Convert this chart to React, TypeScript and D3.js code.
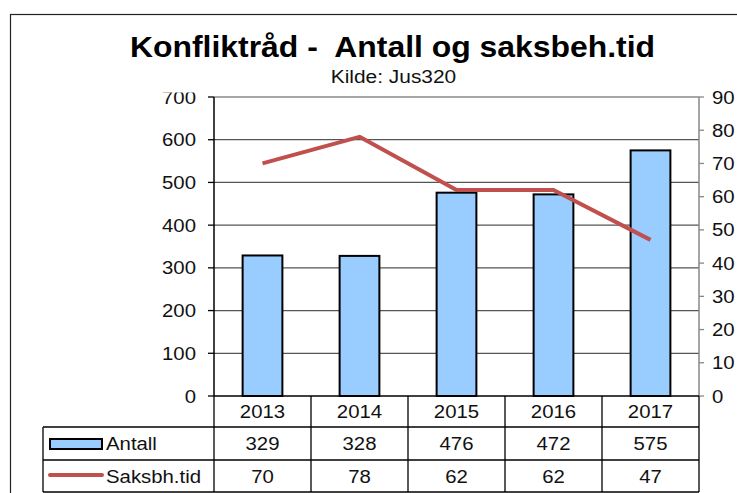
import React from "react";
import * as d3 from "d3";

const years = ["2013", "2014", "2015", "2016", "2017"];
const antall = [329, 328, 476, 472, 575];
const saksbehTid = [70, 78, 62, 62, 47];
const leftTicks = [0, 100, 200, 300, 400, 500, 600, 700];
const rightTicks = [0, 10, 20, 30, 40, 50, 60, 70, 80, 90];
const seriesNames = ["Antall", "Saksbh.tid"];
const titleText = "Konfliktråd -  Antall og saksbeh.tid";
const subtitleText = "Kilde: Jus320";

const FONT = "'Liberation Sans', Arial, sans-serif";
const SX = 1.1;

function T({ x, y, size, anchor = "start", bold = false, children, fill = "#000" }: any) {
  return (
    <g transform={`translate(${x},${y}) scale(${SX},1)`}>
      <text
        x={0}
        y={0}
        fontSize={size}
        fontFamily={FONT}
        fontWeight={bold ? "bold" : "normal"}
        textAnchor={anchor}
        fill={fill}
        style={{ whiteSpace: "pre" }}
      >
        {children}
      </text>
    </g>
  );
}

export default function App() {
  const W = 737;
  const H = 493;
  const plotL = 214;
  const plotR = 699;
  const plotT = 97;
  const plotB = 396;

  const x = d3.scaleBand<string>().domain(years).range([plotL, plotR]).padding(0);
  const bw = x.bandwidth();
  const barW = bw * 0.41;
  const yL = d3.scaleLinear().domain([0, 700]).range([plotB, plotT]);
  const yR = d3.scaleLinear().domain([0, 90]).range([plotB, plotT]);

  const line = d3
    .line<number>()
    .x((_, i) => (x(years[i]) as number) + bw / 2)
    .y((d) => yR(d));

  const rowYs = [plotB, 427, 460, 492];
  const tableL = 43;
  const fs = 18.5;
  const dy = 6.5;

  return (
    <svg
      width={W}
      height={H}
      style={{ position: "absolute", left: 0, top: 0, background: "#fff" }}
    >
      <defs>
        <clipPath id="lclip">
          <rect x={0} y={92.5} width={213} height={400} />
        </clipPath>
      </defs>
      <rect x={0} y={0} width={W} height={H} fill="#fff" />
      {/* outer frame */}
      <rect x={10.5} y={14.5} width={W + 20} height={H + 20} fill="none" stroke="#222" strokeWidth={1.2} />

      {/* title */}
      <T x={392.5} y={57} size={29} anchor="middle" bold>
        {titleText}
      </T>
      <T x={393.5} y={83} size={19} anchor="middle" fill="#111">
        {subtitleText}
      </T>

      {/* gridlines */}
      {leftTicks.slice(1, -1).map((t) => (
        <line key={"g" + t} x1={plotL} x2={plotR} y1={yL(t)} y2={yL(t)} stroke="#555" strokeWidth={1.3} />
      ))}
      {/* plot top border */}
      <line x1={plotL} x2={plotR} y1={plotT} y2={plotT} stroke="#888" strokeWidth={1.5} />

      {/* bars */}
      {antall.map((v, i) => {
        const cx = (x(years[i]) as number) + bw / 2;
        return (
          <rect
            key={"b" + i}
            x={cx - barW / 2}
            y={yL(v)}
            width={barW}
            height={plotB - yL(v)}
            fill="#99CCFF"
            stroke="#000"
            strokeWidth={2}
          />
        );
      })}

      {/* left axis */}
      <line x1={plotL} x2={plotL} y1={plotT} y2={plotB} stroke="#000" strokeWidth={1.5} />
      {leftTicks.map((t) => (
        <line key={"lt" + t} x1={plotL - 6} x2={plotL} y1={yL(t)} y2={yL(t)} stroke="#000" strokeWidth={1.3} />
      ))}
      <g clipPath="url(#lclip)">
        {leftTicks.map((t) => (
          <T key={"ll" + t} x={196} y={yL(t) + dy} size={fs} anchor="end" fill="#111">
            {String(t)}
          </T>
        ))}
      </g>

      {/* right axis */}
      <line x1={plotR} x2={plotR} y1={plotT} y2={plotB} stroke="#888" strokeWidth={1.5} />
      {rightTicks.map((t) => (
        <line key={"rt" + t} x1={plotR} x2={plotR + 5} y1={yR(t)} y2={yR(t)} stroke="#888" strokeWidth={1.3} />
      ))}
      {rightTicks.map((t) => (
        <T key={"rl" + t} x={712} y={yR(t) + dy} size={fs} fill="#111">
          {String(t)}
        </T>
      ))}

      {/* line series */}
      <path d={line(saksbehTid) || ""} fill="none" stroke="#C0504D" strokeWidth={4} strokeLinejoin="round" />

      {/* data table */}
      <line x1={plotL} x2={plotR} y1={rowYs[0]} y2={rowYs[0]} stroke="#000" strokeWidth={1.5} />
      {rowYs.slice(1).map((ry, i) => (
        <line key={"tr" + i} x1={tableL} x2={plotR} y1={ry} y2={ry} stroke="#000" strokeWidth={1.3} />
      ))}
      <line x1={tableL} x2={tableL} y1={rowYs[1]} y2={rowYs[3]} stroke="#000" strokeWidth={1.3} />
      {[...years.map((yr) => x(yr) as number), plotR].map((vx, i) => (
        <line key={"tv" + i} x1={vx} x2={vx} y1={rowYs[0]} y2={rowYs[3]} stroke="#000" strokeWidth={1.3} />
      ))}
      {years.map((yr, i) => {
        const cx = (x(yr) as number) + bw / 2;
        return (
          <g key={"tc" + i}>
            <T x={cx} y={(rowYs[0] + rowYs[1]) / 2 + dy} size={fs} anchor="middle" fill="#111">
              {yr}
            </T>
            <T x={cx} y={(rowYs[1] + rowYs[2]) / 2 + dy} size={fs} anchor="middle" fill="#111">
              {String(antall[i])}
            </T>
            <T x={cx} y={(rowYs[2] + rowYs[3]) / 2 + dy} size={fs} anchor="middle" fill="#111">
              {String(saksbehTid[i])}
            </T>
          </g>
        );
      })}
      {/* legend keys */}
      <rect x={50} y={439} width={52} height={10} fill="#99CCFF" stroke="#000" strokeWidth={2} />
      <line x1={50} x2={102} y1={475} y2={475} stroke="#C0504D" strokeWidth={4} strokeLinecap="round" />
      <T x={106} y={(rowYs[1] + rowYs[2]) / 2 + dy} size={fs} fill="#111">
        {seriesNames[0]}
      </T>
      <T x={106} y={(rowYs[2] + rowYs[3]) / 2 + dy} size={fs} fill="#111">
        {seriesNames[1]}
      </T>
    </svg>
  );
}
